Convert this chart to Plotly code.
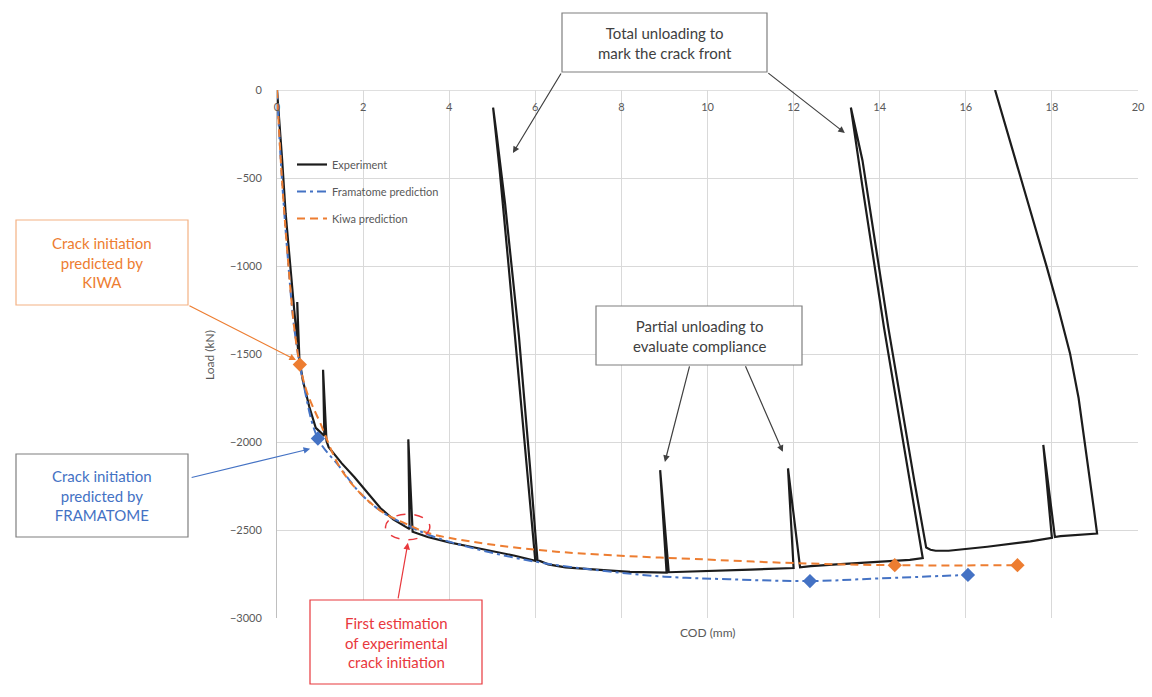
import plotly.graph_objects as go

# ---- Experiment: load vs COD, including the unloading loops ----
exp_cod = [0, 0.05, 0.12, 0.2, 0.3, 0.4, 0.5, 0.47, 0.52, 0.6, 0.75, 0.9, 1.1, 1.07, 1.15,
           1.2, 1.5, 1.8, 2.1, 2.4, 2.7, 3.0, 3.08, 3.05, 3.15, 3.5, 4.0, 4.5, 5.0, 5.5, 6.0,
           5.72, 5.38, 5.17, 5.02, 5.1, 5.3, 5.62, 5.88, 6.05,
           6.3, 6.7, 7.5, 8.2, 9.05, 8.9, 9.1, 9.3, 10.0, 11.0, 12.0, 11.87, 12.15, 12.4, 13.0, 14.0,
           14.7, 15.0, 14.7, 14.1, 13.6, 13.33, 13.6, 14.2, 14.8, 15.08, 15.18, 15.3, 15.6,
           16.5, 17.5, 18.0, 17.8, 18.07, 18.2, 19.05, 18.98, 18.9, 18.77, 18.62, 18.42, 18.16, 17.88, 17.27, 16.68]
exp_load = [0, -150, -400, -700, -1000, -1250, -1500, -1205, -1530, -1650, -1800, -1920, -1965, -1590, -1995,
            -2030, -2120, -2200, -2290, -2375, -2440, -2485, -2495, -1985, -2510, -2540, -2570, -2595, -2620, -2645, -2675,
            -1900, -1000, -450, -100, -250, -650, -1400, -2150, -2670,
            -2695, -2712, -2727, -2738, -2742, -2160, -2740, -2738, -2735, -2725, -2716, -2150, -2712, -2705, -2695, -2682,
            -2670, -2660, -2215, -1350, -550, -100, -400, -1350, -2215, -2600, -2612, -2618, -2618,
            -2595, -2565, -2545, -2017, -2540, -2535, -2520, -2390, -2250, -2000, -1750, -1495, -1250, -1005, -500, 0]

# ---- Framatome prediction ----
fra_cod = [0, 0.1, 0.25, 0.4, 0.6, 0.95, 1.45, 1.93, 2.46, 3.0, 3.55, 4.5, 6.0, 7.5, 9.0, 10.5, 12.38, 14.0, 16.05]
fra_load = [0, -450, -950, -1350, -1650, -1980, -2140, -2290, -2400, -2470, -2530, -2600, -2680, -2730, -2765,
            -2780, -2790, -2775, -2755]
fra_mark_cod = [0.95, 12.38, 16.05]
fra_mark_load = [-1980, -2790, -2755]

# ---- Kiwa prediction ----
kiwa_cod = [0, 0.1, 0.25, 0.4, 0.53, 0.7, 1.0, 1.45, 1.93, 2.46, 3.0, 3.55, 4.5, 6.0, 7.5, 10.0, 12.0, 14.35, 17.2]
kiwa_load = [0, -450, -950, -1350, -1560, -1720, -1890, -2140, -2290, -2400, -2465, -2520, -2565, -2612, -2640,
             -2668, -2688, -2700, -2700]
kiwa_mark_cod = [0.53, 14.35, 17.2]
kiwa_mark_load = [-1560, -2700, -2700]

x_ticks = [0, 2, 4, 6, 8, 10, 12, 14, 16, 18, 20]
y_ticks = [0, -500, -1000, -1500, -2000, -2500, -3000]

BLUE = "#4472C4"
ORANGE = "#ED7D31"
RED = "#E8383D"
GREY_TXT = "#595959"
FONT = "Lato, Open Sans, sans-serif"

# plot-area geometry in pixels
W, H = 1152, 697
L, R, T, B = 277, 1138, 90, 618


def px(xp):
    return (xp - L) / (R - L)


def py(yp):
    return (B - yp) / (B - T)


fig = go.Figure()

fig.add_trace(go.Scatter(x=exp_cod, y=exp_load, mode="lines", name="Experiment",
                         line=dict(color="#1c1c1c", width=2.2), legendgroup="a"))
fig.add_trace(go.Scatter(x=fra_cod, y=fra_load, mode="lines", name="Framatome prediction",
                         line=dict(color=BLUE, width=2, dash="9px,4px,3px,4px", shape="spline"),
                         legendgroup="b"))
fig.add_trace(go.Scatter(x=kiwa_cod, y=kiwa_load, mode="lines", name="Kiwa prediction",
                         line=dict(color=ORANGE, width=2, dash="8px,5px", shape="spline"),
                         legendgroup="c"))
fig.add_trace(go.Scatter(x=fra_mark_cod, y=fra_mark_load, mode="markers", showlegend=False,
                         marker=dict(symbol="diamond", size=11, color=BLUE)))
fig.add_trace(go.Scatter(x=kiwa_mark_cod, y=kiwa_mark_load, mode="markers", showlegend=False,
                         marker=dict(symbol="diamond", size=11, color=ORANGE)))

# dashed ellipse around the first experimental initiation estimate
fig.add_shape(type="circle", xref="x", yref="y", x0=2.52, x1=3.55, y0=-2555, y1=-2410,
              line=dict(color=RED, width=1.5, dash="dash"))

# text boxes (pixel rectangles) and their labels
boxes = [
    (562, 13, 767, 72, "#7F7F7F", "Total unloading to<br>mark the crack front", "#404040"),
    (596, 306, 802, 365, "#7F7F7F", "Partial unloading to<br>evaluate compliance", "#404040"),
    (16, 220, 188, 305, "#F4B183", "Crack initiation<br>predicted by<br>KIWA", ORANGE),
    (16, 454, 188, 537, "#7F7F7F", "Crack initiation<br>predicted by<br>FRAMATOME", BLUE),
    (310, 600, 482, 684, RED, "First estimation<br>of experimental<br>crack initiation", RED),
]
for x0, y0, x1, y1, bc, txt, tc in boxes:
    fig.add_shape(type="rect", xref="paper", yref="paper", x0=px(x0), x1=px(x1), y0=py(y1), y1=py(y0),
                  line=dict(color=bc, width=1.2), fillcolor="white", layer="above")
    fig.add_annotation(xref="paper", yref="paper", x=px((x0 + x1) / 2), y=py((y0 + y1) / 2),
                       text=txt, showarrow=False, font=dict(family=FONT, size=15, color=tc),
                       align="center", xanchor="center", yanchor="middle")

# arrows: (head x, head y in data units, tail offset in px, colour)
arrows = [
    (5.48, -358, 49, -81, "#404040"),
    (13.19, -244, -78, -61, "#404040"),
    (9.01, -2113, 25, -97, "#404040"),
    (11.75, -2056, -38, -87, "#404040"),
    (0.44, -1534, -108, -55, ORANGE),
    (0.77, -2039, -120, 29, BLUE),
    (3.04, -2573, -10, 57, RED),
]
for hx, hy, ax, ay, c in arrows:
    fig.add_annotation(x=hx, y=hy, xref="x", yref="y", ax=ax, ay=ay, text="", showarrow=True,
                       arrowhead=2, arrowsize=1.1, arrowwidth=1.2, arrowcolor=c)

# axis titles
fig.add_annotation(xref="paper", yref="paper", x=px(708), y=py(632), text="COD (mm)", showarrow=False,
                   font=dict(family=FONT, size=12, color=GREY_TXT), xanchor="center", yanchor="middle")
fig.add_annotation(xref="paper", yref="paper", x=px(209), y=py(355), text="Load (kN)", showarrow=False,
                   textangle=-90, font=dict(family=FONT, size=12, color=GREY_TXT),
                   xanchor="center", yanchor="middle")

fig.update_layout(
    width=W, height=H,
    margin=dict(l=L, r=W - R, t=T, b=H - B, autoexpand=False),
    paper_bgcolor="white", plot_bgcolor="white",
    font=dict(family=FONT, color=GREY_TXT),
    legend=dict(x=px(292), y=py(150), xanchor="left", yanchor="top", bgcolor="rgba(255,255,255,0)",
                font=dict(size=11, color=GREY_TXT), tracegroupgap=8, traceorder="grouped"),
    # horizontal axis crosses at load = 0, so its labels sit just under the top edge
    xaxis=dict(range=[0, 20], tickvals=x_ticks, side="bottom", anchor="free", position=py(99),
               showgrid=True, gridcolor="#D9D9D9", gridwidth=1, zeroline=False,
               showline=False, ticks="", tickfont=dict(size=11, color=GREY_TXT)),
    yaxis=dict(range=[-3000, 0], tickvals=y_ticks, showgrid=True, gridcolor="#D9D9D9", gridwidth=1,
               zeroline=False, showline=True, linecolor="#BFBFBF", linewidth=1, ticks="",
               tickfont=dict(size=11, color=GREY_TXT), ticklabelstandoff=12),
)
fig.add_shape(type="line", xref="paper", yref="y", x0=0, x1=1, y0=0, y1=0,
              line=dict(color="#BFBFBF", width=1), layer="below")

fig.write_html("out.html")
